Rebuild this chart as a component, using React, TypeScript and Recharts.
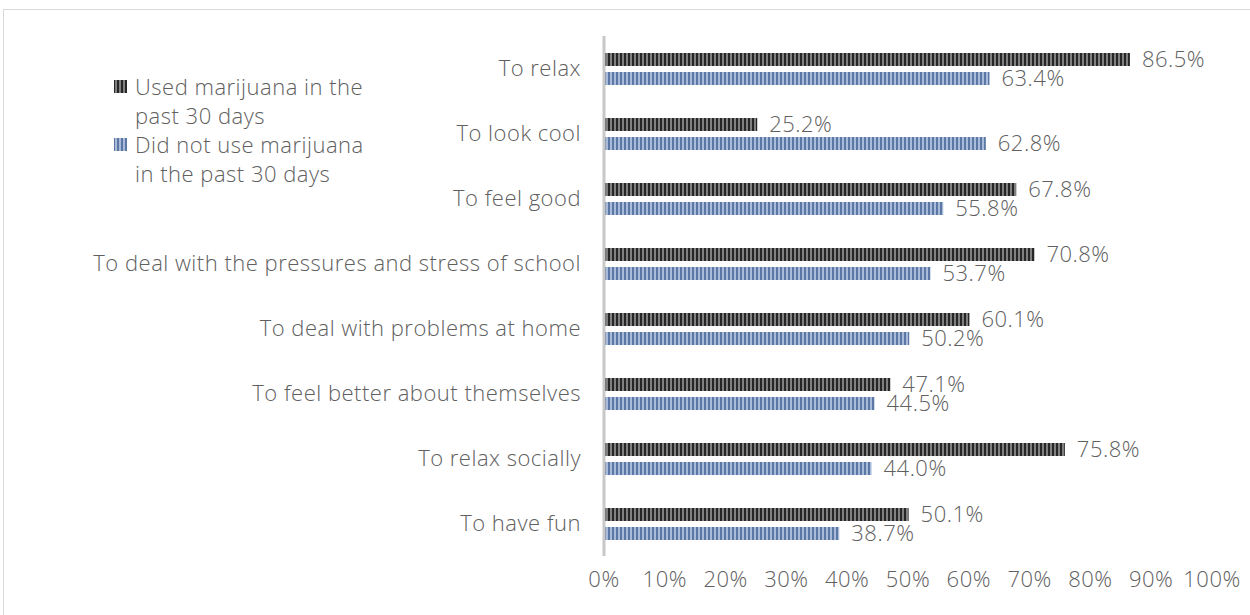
import React from "react";
import { BarChart, Bar, XAxis, YAxis, LabelList } from "recharts";

const categories = [
  "To relax",
  "To look cool",
  "To feel good",
  "To deal with the pressures and stress of school",
  "To deal with problems at home",
  "To feel better about themselves",
  "To relax socially",
  "To have fun",
];
const usedValues = [86.5, 25.2, 67.8, 70.8, 60.1, 47.1, 75.8, 50.1];
const notUsedValues = [63.4, 62.8, 55.8, 53.7, 50.2, 44.5, 44.0, 38.7];
const xTicks = [0, 10, 20, 30, 40, 50, 60, 70, 80, 90, 100];
const seriesNames = [
  ["Used marijuana in the", "past 30 days"],
  ["Did not use marijuana", "in the past 30 days"],
];

const data = categories.map((name, i) => ({
  name,
  used: usedValues[i],
  notUsed: notUsedValues[i],
}));

const FONT = "'Open Sans', Lato, sans-serif";
const TEXT = "#606060";
const textStyle = {
  fill: TEXT,
  fontSize: 22,
  fontFamily: FONT,
  fontWeight: 300,
  letterSpacing: 0.5,
};

// legend drawn as an overlay so it doesn't eat into the plot area
const LegendBox = () => (
  <div
    style={{
      position: "absolute",
      left: 109,
      top: 62,
      width: 300,
      fontFamily: FONT,
      fontSize: 22,
      color: TEXT,
      fontWeight: 300,
      letterSpacing: 0.5,
      lineHeight: "29px",
    }}
  >
    {seriesNames.map((lines, i) => (
      <div key={i} style={{ display: "flex" }}>
        <svg width={22} height={29} style={{ flexShrink: 0 }}>
          <rect x={1} y={8} width={13} height={13} fill={i === 0 ? "url(#darkStripe)" : "url(#blueStripe)"} />
        </svg>
        <div>
          {lines.map((l) => (
            <div key={l}>{l}</div>
          ))}
        </div>
      </div>
    ))}
  </div>
);

export default function App() {
  return (
    <div
      style={{
        position: "absolute",
        left: 3,
        top: 9,
        width: 1250,
        height: 610,
        border: "1px solid #d9d9d9",
        background: "#fff",
      }}
    >
      <BarChart
        width={1246}
        height={604}
        data={data}
        layout="vertical"
        margin={{ top: 26, right: 38, bottom: 10, left: 0 }}
        barSize={13}
        barGap={6}
      >
        <defs>
          <pattern id="darkStripe" width={4} height={4} patternUnits="userSpaceOnUse">
            <rect width={4} height={4} fill="#808080" />
            <rect width={2} height={4} fill="#262626" />
          </pattern>
          <pattern id="blueStripe" width={4} height={4} patternUnits="userSpaceOnUse">
            <rect width={4} height={4} fill="#a9bbd8" />
            <rect width={2} height={4} fill="#5a77a6" />
          </pattern>
        </defs>
        <XAxis
          type="number"
          domain={[0, 100]}
          ticks={xTicks}
          tickFormatter={(v) => `${v}%`}
          axisLine={false}
          tickLine={false}
          tickSize={0}
          tickMargin={15}
          height={48}
          interval={0}
          tick={textStyle}
        />
        <YAxis
          type="category"
          dataKey="name"
          width={600}
          axisLine={{ stroke: "#c8c8c8", strokeWidth: 3 }}
          tickLine={false}
          tickSize={0}
          tickMargin={23}
          interval={0}
          tick={textStyle}
        />
        <Bar dataKey="used" fill="url(#darkStripe)" isAnimationActive={false}>
          <LabelList
            dataKey="used"
            position="right"
            offset={12}
            formatter={(v: number) => `${v.toFixed(1)}%`}
            style={textStyle}
          />
        </Bar>
        <Bar dataKey="notUsed" fill="url(#blueStripe)" isAnimationActive={false}>
          <LabelList
            dataKey="notUsed"
            position="right"
            offset={12}
            formatter={(v: number) => `${v.toFixed(1)}%`}
            style={textStyle}
          />
        </Bar>
      </BarChart>
      <LegendBox />
    </div>
  );
}
